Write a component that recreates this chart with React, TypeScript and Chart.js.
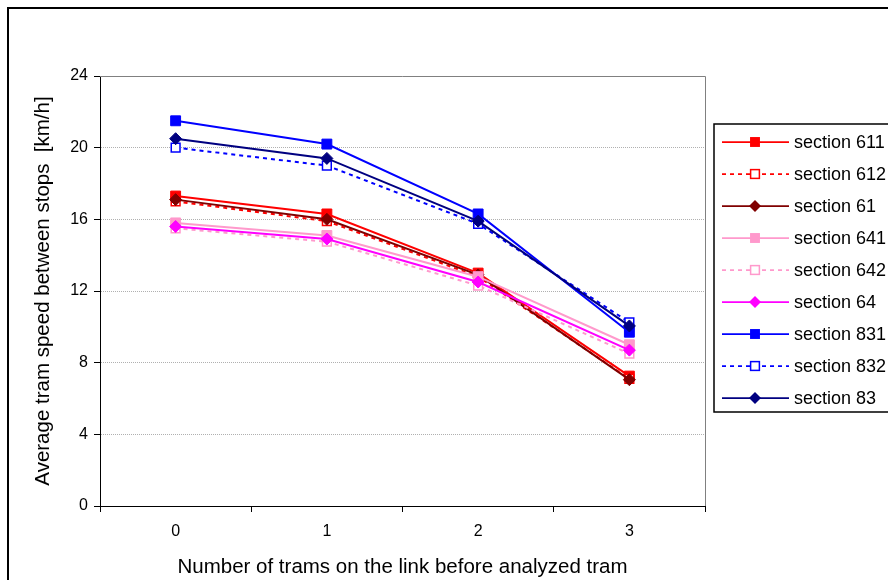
import React, { useEffect, useRef } from "react";
import { Chart, registerables } from "chart.js";

Chart.register(...registerables);

const categories = ["0", "1", "2", "3"];
const yTicks = [0, 4, 8, 12, 16, 20, 24];

const seriesNames = [
  "section 611",
  "section 612",
  "section 61",
  "section 641",
  "section 642",
  "section 64",
  "section 831",
  "section 832",
  "section 83",
];

const s611 = [17.3, 16.3, 13.0, 7.25];
const s612 = [17.0, 15.9, 12.8, 7.1];
const s61 = [17.1, 16.0, 12.9, 7.05];
const s641 = [15.8, 15.1, 12.8, 9.0];
const s642 = [15.5, 14.75, 12.3, 8.5];
const s64 = [15.6, 14.9, 12.5, 8.7];
const s831 = [21.5, 20.2, 16.3, 9.7];
const s832 = [20.0, 19.0, 15.75, 10.25];
const s83 = [20.5, 19.4, 15.9, 10.05];

const seriesValues = [s611, s612, s61, s641, s642, s64, s831, s832, s83];

const seriesColors = [
  "#FF0000",
  "#FF0000",
  "#800000",
  "#FF99CC",
  "#FF99CC",
  "#FF00FF",
  "#0000FF",
  "#0000FF",
  "#000080",
];

// kind: "square" filled, "hollow" dashed + hollow square, "diamond"
const seriesKinds = ["square", "hollow", "diamond", "square", "hollow", "diamond", "square", "hollow", "diamond"];

const FONT = "'Liberation Sans', Arial, sans-serif";

function styleFor(kind: string, color: string) {
  if (kind === "square") {
    return { pointStyle: "rect", pointRadius: 7, pointBackgroundColor: color, pointBorderColor: color, pointBorderWidth: 1, borderDash: [] as number[] };
  }
  if (kind === "hollow") {
    return { pointStyle: "rect", pointRadius: 6.2, pointBackgroundColor: "#FFFFFF", pointBorderColor: color, pointBorderWidth: 1.5, borderDash: [4, 4] };
  }
  return { pointStyle: "rectRot", pointRadius: 6, pointBackgroundColor: color, pointBorderColor: color, pointBorderWidth: 1, borderDash: [] as number[] };
}

function drawMarker(ctx: CanvasRenderingContext2D, kind: string, color: string, x: number, y: number) {
  ctx.save();
  ctx.setLineDash([]);
  if (kind === "square") {
    const h = 7 * Math.SQRT1_2;
    ctx.fillStyle = color;
    ctx.fillRect(x - h, y - h, 2 * h, 2 * h);
  } else if (kind === "hollow") {
    const h = 6.2 * Math.SQRT1_2;
    ctx.fillStyle = "#FFFFFF";
    ctx.strokeStyle = color;
    ctx.lineWidth = 1.5;
    ctx.fillRect(x - h, y - h, 2 * h, 2 * h);
    ctx.strokeRect(x - h, y - h, 2 * h, 2 * h);
  } else {
    const r = 6;
    ctx.fillStyle = color;
    ctx.beginPath();
    ctx.moveTo(x - r, y);
    ctx.lineTo(x, y - r);
    ctx.lineTo(x + r, y);
    ctx.lineTo(x, y + r);
    ctx.closePath();
    ctx.fill();
  }
  ctx.restore();
}

const framePlugin = {
  id: "framePlugin",
  beforeDatasetsDraw(chart: any) {
    const { ctx, chartArea } = chart;
    ctx.save();
    ctx.strokeStyle = "#808080";
    ctx.lineWidth = 1;
    ctx.beginPath();
    ctx.moveTo(chartArea.left, chartArea.top + 0.5);
    ctx.lineTo(chartArea.right + 0.5, chartArea.top + 0.5);
    ctx.lineTo(chartArea.right + 0.5, chartArea.bottom);
    ctx.stroke();
    ctx.restore();
  },
  afterDraw(chart: any) {
    const { ctx } = chart;
    ctx.save();
    // outer chart border
    ctx.strokeStyle = "#000000";
    ctx.lineWidth = 2;
    ctx.beginPath();
    ctx.moveTo(8, 580);
    ctx.lineTo(8, 8);
    ctx.lineTo(888, 8);
    ctx.stroke();

    // legend
    const boxLeft = 714;
    const boxTop = 124;
    const boxBottom = 412;
    ctx.fillStyle = "#FFFFFF";
    ctx.fillRect(boxLeft, boxTop, 888 - boxLeft, boxBottom - boxTop);
    ctx.strokeStyle = "#000000";
    ctx.lineWidth = 1.5;
    ctx.beginPath();
    ctx.moveTo(890, boxTop);
    ctx.lineTo(boxLeft, boxTop);
    ctx.lineTo(boxLeft, boxBottom);
    ctx.lineTo(890, boxBottom);
    ctx.stroke();

    ctx.font = `18px ${FONT}`;
    ctx.textBaseline = "middle";
    ctx.textAlign = "left";
    for (let i = 0; i < seriesNames.length; i++) {
      const y = 142 + i * 32;
      const color = seriesColors[i];
      const kind = seriesKinds[i];
      ctx.save();
      ctx.strokeStyle = color;
      ctx.lineWidth = 1.75;
      ctx.setLineDash(kind === "hollow" ? [4, 4] : []);
      ctx.beginPath();
      ctx.moveTo(722, y);
      ctx.lineTo(789, y);
      ctx.stroke();
      ctx.restore();
      drawMarker(ctx, kind, color, 755, y);
      ctx.fillStyle = "#000000";
      ctx.fillText(seriesNames[i], 794, y + 1);
    }
    ctx.restore();
  },
};

export default function App() {
  const canvasRef = useRef<HTMLCanvasElement | null>(null);

  useEffect(() => {
    if (!canvasRef.current) return;
    const datasets = seriesNames.map((name, i) => {
      const st = styleFor(seriesKinds[i], seriesColors[i]);
      return {
        label: name,
        data: seriesValues[i],
        borderColor: seriesColors[i],
        backgroundColor: seriesColors[i],
        borderWidth: 2,
        borderDash: st.borderDash,
        pointStyle: st.pointStyle,
        pointRadius: st.pointRadius,
        pointBackgroundColor: st.pointBackgroundColor,
        pointBorderColor: st.pointBorderColor,
        pointBorderWidth: st.pointBorderWidth,
        tension: 0,
        fill: false,
        order: seriesNames.length - i,
      };
    });

    const chart = new Chart(canvasRef.current, {
      type: "line",
      data: { labels: categories, datasets },
      options: {
        animation: false,
        responsive: false,
        devicePixelRatio: 1,
        layout: { padding: { left: 31, top: 76, right: 183, bottom: 0 } },
        plugins: {
          legend: { display: false },
          tooltip: { enabled: false },
          title: { display: false },
        },
        scales: {
          x: {
            type: "category",
            offset: true,
            grid: {
              offset: true,
              drawOnChartArea: false,
              tickLength: 6,
              color: "#000000",
              tickColor: "#000000",
              tickBorderDash: [],
            },
            border: { display: true, color: "#000000", width: 1 },
            ticks: { color: "#000000", font: { family: FONT, size: 16 }, padding: 10, maxRotation: 0 },
            title: {
              display: true,
              text: "Number of trams on the link before analyzed tram",
              color: "#000000",
              font: { family: FONT, size: 20.5 },
              padding: 0,
            },
            afterFit: (s: any) => {
              s.height = 74;
            },
          },
          y: {
            min: 0,
            max: 24,
            afterBuildTicks: (s: any) => {
              s.ticks = yTicks.map((v) => ({ value: v }));
            },
            grid: {
              color: (c: any) => (c.tick && (c.tick.value === 0 || c.tick.value === 24) ? "rgba(0,0,0,0)" : "#B0B0B0"),
              tickColor: "#000000",
              tickLength: 6,
              tickBorderDash: [],
              lineWidth: 1,
            },
            border: { display: true, color: "#000000", width: 1, dash: [1, 1] },
            ticks: { color: "#000000", font: { family: FONT, size: 16 }, padding: 6 },
            title: {
              display: true,
              text: "Average tram speed between stops  [km/h]",
              color: "#000000",
              font: { family: FONT, size: 20.5 },
              padding: 0,
            },
            afterFit: (s: any) => {
              s.width = 69;
            },
          },
        },
      },
      plugins: [framePlugin],
    });
    return () => chart.destroy();
  }, []);

  return (
    <div style={{ position: "absolute", left: 0, top: 0, width: 888, height: 580, overflow: "hidden", background: "#FFFFFF" }}>
      <canvas ref={canvasRef} width={888} height={580} style={{ width: 888, height: 580, display: "block" }} />
    </div>
  );
}
